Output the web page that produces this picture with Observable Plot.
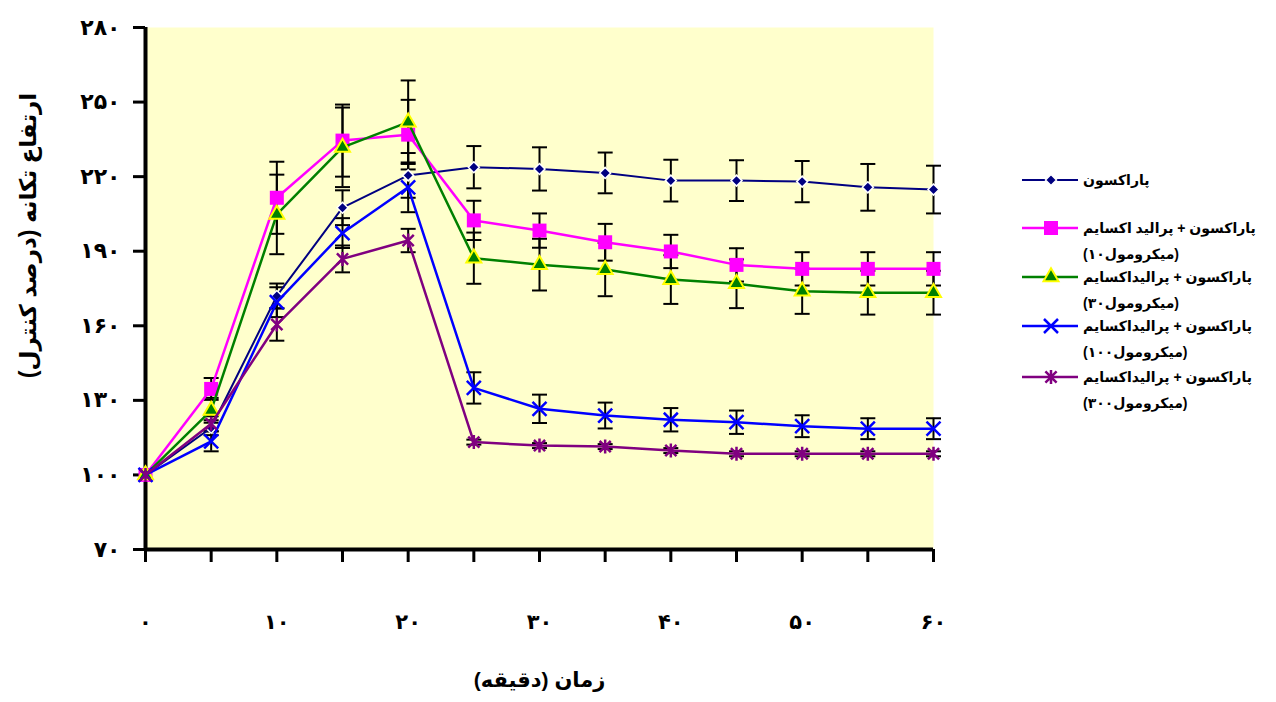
<!DOCTYPE html>
<html>
<head>
<meta charset="utf-8">
<script src="https://cdn.jsdelivr.net/npm/d3@7"></script>
<script src="https://cdn.jsdelivr.net/npm/@observablehq/plot@0.6"></script>
<style>
  html, body { margin: 0; padding: 0; background: #fff; }
  #wrap { position: relative; width: 1276px; height: 702px; font-family: "Liberation Sans", "DejaVu Sans", sans-serif; font-weight: bold; }
  #wrap svg text { font-weight: bold; }
  .leg { position: absolute; left: 1020px; display: flex; align-items: flex-start; }
  .leg svg { flex: none; }
  .leg .txt { margin-left: 5px; font-size: 14px; line-height: 26px; color: #000; white-space: nowrap; direction: ltr; }
</style>
</head>
<body>
<div id="wrap"></div>
<script>
// ---- data ----
const time = [0, 5, 10, 15, 20, 25, 30, 35, 40, 45, 50, 55, 60];
const xTicks = [0, 5, 10, 15, 20, 25, 30, 35, 40, 45, 50, 55, 60];
const xLabelTicks = [0, 10, 20, 30, 40, 50, 60];
const yTicks = [70, 100, 130, 160, 190, 220, 250, 280];

const paraoxon      = [100, 119, 172, 207.5, 220.5, 223.8, 223.1, 221.5, 218.4, 218.4, 218.0, 215.7, 214.8];
const paraoxonErr   = [0, 3, 5, 7, 9, 8.5, 8.7, 8.2, 8.4, 8.2, 8.3, 9.4, 9.6];
const prali10       = [100, 134.6, 211.5, 234.5, 236.9, 202.4, 198.3, 193.6, 189.9, 184.5, 182.9, 182.9, 182.9];
const prali10Err    = [0, 4.4, 14.5, 14.5, 14, 7.9, 6.9, 7.4, 6.7, 6.7, 6.7, 6.7, 6.7];
const prali30       = [100, 126, 204.8, 231.8, 241.9, 187.2, 184.6, 182.6, 178.6, 176.9, 173.9, 173.3, 173.3];
const prali30Err    = [0, 5, 16, 16, 16.8, 10.3, 10.4, 10.7, 9.8, 9.8, 9.1, 8.8, 8.8];
const prali100      = [100, 113.5, 169.5, 197.3, 215.7, 135.0, 126.6, 123.9, 122.2, 121.2, 119.6, 118.6, 118.6];
const prali100Err   = [0, 4, 6, 6, 10, 6.3, 5.7, 5.2, 4.7, 4.7, 4.4, 4.2, 4.2];
const prali300      = [100, 120.6, 160.5, 186.9, 194.3, 113.2, 111.8, 111.4, 109.8, 108.5, 108.5, 108.5, 108.5];
const prali300Err   = [0, 3, 6.5, 5.4, 4.7, 1, 1, 1, 1, 1, 1, 1, 1];

// legend: first line, then [dose digits, unit] of the second line
const seriesNames = [
  "پاراکسون",
  "پاراکسون + پرالید اکسایم",
  "پاراکسون + پرالیداکسایم",
  "پاراکسون + پرالیداکسایم",
  "پاراکسون + پرالیداکسایم"
];
const seriesDoses = [null, "۱۰", "۳۰", "۱۰۰", "۳۰۰"];
const doseUnit = "میکرومول";
const xTitle = "زمان (دقیقه)";
const yTitle = "ارتفاع تکانه (درصد کنترل)";

// ---- helpers ----
const fa = d => String(d).replace(/\d/g, c => "۰۱۲۳۴۵۶۷۸۹"[+c]);
const rOf = size => Math.sqrt(size / Math.PI);
const diamondSym = { draw(c, s) { const r = rOf(s); c.moveTo(0, -r); c.lineTo(r, 0); c.lineTo(0, r); c.lineTo(-r, 0); c.closePath(); } };
const squareSym  = { draw(c, s) { const r = rOf(s); c.rect(-r, -r, 2 * r, 2 * r); } };
const triSym     = { draw(c, s) { const r = rOf(s); const h = r * Math.sqrt(3); c.moveTo(0, -2 * h / 3); c.lineTo(r, h / 3); c.lineTo(-r, h / 3); c.closePath(); } };
const xSym       = { draw(c, s) { const r = rOf(s); c.moveTo(-r, -r); c.lineTo(r, r); c.moveTo(-r, r); c.lineTo(r, -r); } };
const starSym    = { draw(c, s) { const r = rOf(s); const q = r * 0.8; c.moveTo(0, -r); c.lineTo(0, r); c.moveTo(-q, -q); c.lineTo(q, q); c.moveTo(-q, q); c.lineTo(q, -q); } };
const capSym     = { draw(c, s) { const r = rOf(s); c.moveTo(-r, 0); c.lineTo(r, 0); } };

const series = [
  { values: paraoxon, errors: paraoxonErr, color: "#000080", lw: 2,
    sym: diamondSym, r: 5.5, fill: "#000080", stroke: "#ffffff", sw: 1.5 },
  { values: prali10, errors: prali10Err, color: "#ff00ff", lw: 2.5,
    sym: squareSym, r: 7, fill: "#ff00ff", stroke: "none", sw: 0 },
  { values: prali30, errors: prali30Err, color: "#008000", lw: 2.5,
    sym: triSym, r: 7.5, fill: "#008000", stroke: "#ffff00", sw: 2 },
  { values: prali100, errors: prali100Err, color: "#0000ff", lw: 2.5,
    sym: xSym, r: 7, fill: "none", stroke: "#0000ff", sw: 2.5 },
  { values: prali300, errors: prali300Err, color: "#800080", lw: 2.5,
    sym: starSym, r: 7, fill: "none", stroke: "#800080", sw: 2.5 }
].map((s, i) => ({ ...s, name: seriesNames[i], dose: seriesDoses[i] }));

const rowsOf = s => time.map((t, i) => ({ t, v: s.values[i], e: s.errors[i] }));

const errMarks = series.flatMap(s => {
  const rows = rowsOf(s).filter(d => d.e > 0);
  return [
    Plot.ruleX(rows, { x: "t", y1: d => d.v - d.e, y2: d => d.v + d.e, stroke: "#000", strokeWidth: 2 }),
    Plot.dot(rows, { x: "t", y: d => d.v + d.e, symbol: capSym, r: 7.5, stroke: "#000", strokeWidth: 2, fill: "none" }),
    Plot.dot(rows, { x: "t", y: d => d.v - d.e, symbol: capSym, r: 7.5, stroke: "#000", strokeWidth: 2, fill: "none" })
  ];
});

const seriesMarks = series.flatMap(s => {
  const rows = rowsOf(s);
  return [
    Plot.line(rows, { x: "t", y: "v", stroke: s.color, strokeWidth: s.lw }),
    Plot.dot(rows, { x: "t", y: "v", symbol: s.sym, r: s.r, fill: s.fill, stroke: s.stroke, strokeWidth: s.sw })
  ];
});

const chart = Plot.plot({
  width: 1276,
  height: 702,
  marginTop: 27,
  marginBottom: 153,
  marginLeft: 145,
  marginRight: 343,
  style: { fontFamily: "'Liberation Sans', 'DejaVu Sans', sans-serif", fontWeight: "bold", color: "#000", background: "transparent" },
  x: { domain: [0, 60] },
  y: { domain: [70, 280] },
  marks: [
    Plot.frame({ fill: "#ffffcc", stroke: "none" }),
    Plot.axisY({ ticks: yTicks, tickSize: 12, tickPadding: 13, strokeWidth: 3, tickFormat: fa, fontSize: 22, label: null }),
    Plot.axisX({ ticks: xTicks, tickSize: 13, strokeWidth: 3, tickFormat: () => "", label: null }),
    Plot.axisX({ ticks: xLabelTicks, tickSize: 0, tickPadding: 65, tickFormat: fa, fontSize: 21, label: null }),
    Plot.ruleX([0], { stroke: "#000", strokeWidth: 4 }),
    Plot.ruleY([70], { stroke: "#000", strokeWidth: 4 }),
    ...errMarks,
    ...seriesMarks,
    Plot.text([xTitle + "\u200F"], { text: d => d, frameAnchor: "bottom", dy: 137, fontSize: 21, fontWeight: "bold", fill: "#000" }),
    Plot.text(["\u200F" + yTitle + "\u200F"], { text: d => d, frameAnchor: "left", textAnchor: "middle", dx: -117, dy: -53, rotate: -90, fontSize: 23, fontWeight: "bold", fill: "#000" })
  ]
});

const wrap = document.getElementById("wrap");
wrap.appendChild(chart);

// ---- legend ----
const legendTops = [180, 228, 277, 326, 377];
series.forEach((s, i) => {
  const item = document.createElement("div");
  item.className = "leg";
  item.style.top = (legendTops[i] - 13) + "px";
  const path = d3.symbol(s.sym, s.r * s.r * Math.PI)();
  item.innerHTML =
    `<svg width="58" height="26" viewBox="0 0 58 26">
       <line x1="2" y1="13" x2="58" y2="13" stroke="${s.color}" stroke-width="${s.lw}"/>
       <path transform="translate(31,13)" d="${path}" fill="${s.fill}" stroke="${s.stroke}" stroke-width="${s.sw}"/>
     </svg>`;
  const txt = document.createElement("div");
  txt.className = "txt";
  const l1 = document.createElement("div");
  l1.setAttribute("dir", "rtl");
  l1.style.textAlign = "left";
  l1.textContent = s.name;
  txt.appendChild(l1);
  if (s.dose) {
    const l2 = document.createElement("div");
    l2.setAttribute("dir", "ltr");
    const parts = [["(", null], [s.dose, "ltr"], [doseUnit, "rtl"], [")", null]];
    parts.forEach(([t, dir]) => {
      const sp = document.createElement("span");
      sp.style.display = "inline-block";
      if (dir) sp.setAttribute("dir", dir);
      sp.textContent = t;
      l2.appendChild(sp);
    });
    txt.appendChild(l2);
  }
  item.appendChild(txt);
  wrap.appendChild(item);
});
</script>
</body>
</html>
